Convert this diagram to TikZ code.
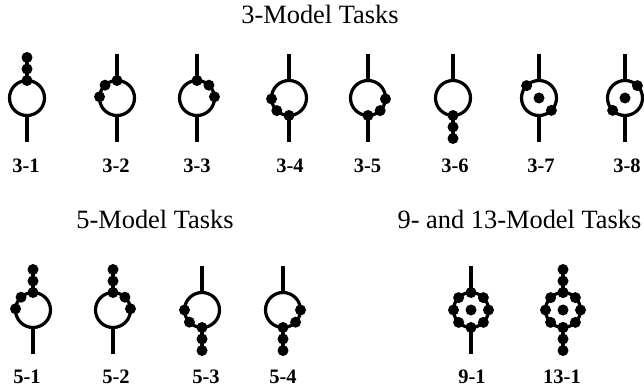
\documentclass[tikz,border=0pt]{standalone}
\usepackage{fontspec}
\setmainfont{Liberation Serif}
\usetikzlibrary{calc}
\tikzset{
  ring/.style={circle, draw, line width=3.2pt, minimum size=35pt, inner sep=0pt, outer sep=0pt},
  bead/.style={circle, fill=black, inner sep=0pt, minimum size=11pt},
  stem/.style={line width=3.2pt},
  ttl/.style={anchor=base, inner sep=0pt, font=\fontsize{26.4}{30}\selectfont},
  lab/.style={anchor=base, inner sep=0pt, font=\fontsize{20.5}{24}\selectfont\bfseries}
}
\def\mymotif#1#2#3{%
  \node[ring] (#1) at (#2,#3) {};
  \coordinate (#1t) at (#2,#3-44);
  \coordinate (#1b) at (#2,#3+44);
  \draw[stem] (#1.north) -- (#1t);
  \draw[stem] (#1.south) -- (#1b);
}
\def\ringbeads#1#2{%
  \foreach \a in {#2} {\node[bead] at (#1.\a) {};}
}
\def\centerbead#1{\node[bead] at (#1.center) {};}
\def\upchain#1{%
  \node[bead] at (#1.north) {};
  \node[bead] at ($(#1.north)+(0,-11.5)$) {};
  \node[bead] at ($(#1.north)+(0,-23)$) {};
}
\def\downchain#1{%
  \node[bead] at (#1.south) {};
  \node[bead] at ($(#1.south)+(0,11.5)$) {};
  \node[bead] at ($(#1.south)+(0,23)$) {};
}
\begin{document}
\begin{tikzpicture}[x=1pt,y=-1pt]
\useasboundingbox (0,0) rectangle (644,387);
% titles
\node[ttl] (t3) at (320,24) {3-Model Tasks};
\node[ttl] (t5) at (155,228) {5-Model Tasks};
\node[ttl] (t913) at (519.5,228) {9- and 13-Model Tasks};
% row 1
\mymotif{m31}{27}{98}   \upchain{m31}
\mymotif{m32}{117}{98}  \ringbeads{m32}{90,133,176}
\mymotif{m33}{197}{98}  \ringbeads{m33}{90,47,4}
\mymotif{m34}{289}{98}  \ringbeads{m34}{270,226,183}
\mymotif{m35}{368}{98}  \ringbeads{m35}{270,314,357}
\mymotif{m36}{453}{98}  \downchain{m36}
\mymotif{m37}{539}{98}  \ringbeads{m37}{135,315} \centerbead{m37}
\mymotif{m38}{625}{98}  \ringbeads{m38}{45,225} \centerbead{m38}
\node[lab] (l31) at (26,173) {3-1};
\node[lab] (l32) at (116,173) {3-2};
\node[lab] (l33) at (197,173) {3-3};
\node[lab] (l34) at (290,173) {3-4};
\node[lab] (l35) at (367.5,173) {3-5};
\node[lab] (l36) at (455,173) {3-6};
\node[lab] (l37) at (541,173) {3-7};
\node[lab] (l38) at (627,173) {3-8};
% row 2
\mymotif{m51}{33}{310}  \upchain{m51} \ringbeads{m51}{133,176}
\mymotif{m52}{113}{310} \upchain{m52} \ringbeads{m52}{47,4}
\mymotif{m53}{202}{310} \downchain{m53} \ringbeads{m53}{224,180}
\mymotif{m54}{283}{310} \downchain{m54} \ringbeads{m54}{316,0}
\mymotif{m91}{471}{310} \ringbeads{m91}{0,45,90,135,180,225,270,315} \centerbead{m91}
\mymotif{m131}{563}{310} \upchain{m131} \downchain{m131} \ringbeads{m131}{0,45,90,135,180,225,270,315} \centerbead{m131}
\node[lab] (l51) at (27,383) {5-1};
\node[lab] (l52) at (116,383) {5-2};
\node[lab] (l53) at (206,383) {5-3};
\node[lab] (l54) at (283,383) {5-4};
\node[lab] (l91) at (472,383) {9-1};
\node[lab] (l131) at (562,383) {13-1};
\end{tikzpicture}
\end{document}
